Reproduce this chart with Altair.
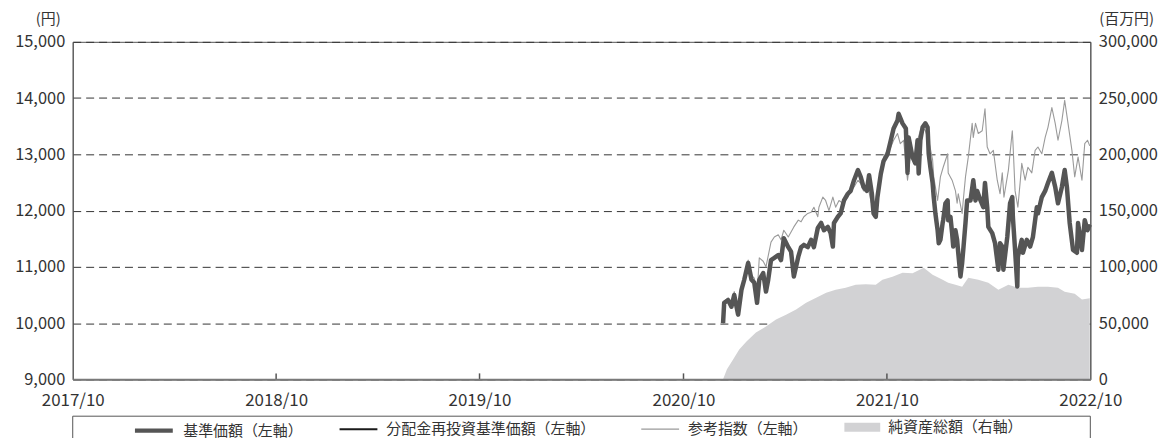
import altair as alt
import pandas as pd

# ---------------- data ----------------
S_BASE = "基準価額（左軸）"
S_DIST = "分配金再投資基準価額（左軸）"
S_REF = "参考指数（左軸）"
S_NAV = "純資産総額（右軸）"
C_BASE, C_DIST, C_REF, C_NAV = "#555555", "#1a1a1a", "#9a9a9a", "#d2d2d4"

base_dates = [
    "2020-12-11", "2020-12-13", "2020-12-20", "2020-12-26", "2020-12-31",
    "2021-01-07", "2021-01-13", "2021-01-18", "2021-01-25", "2021-01-31",
    "2021-02-05", "2021-02-10", "2021-02-14", "2021-02-21", "2021-02-26",
    "2021-03-02", "2021-03-07", "2021-03-13", "2021-03-20", "2021-03-25", "2021-03-30",
    "2021-04-07", "2021-04-12", "2021-04-17", "2021-04-25", "2021-04-30",
    "2021-05-05", "2021-05-12", "2021-05-18", "2021-05-23", "2021-05-30",
    "2021-06-05", "2021-06-10", "2021-06-17", "2021-06-22", "2021-06-26", "2021-06-28",
    "2021-07-05", "2021-07-10", "2021-07-16", "2021-07-23", "2021-07-28",
    "2021-08-03", "2021-08-10", "2021-08-15", "2021-08-20", "2021-08-26", "2021-08-30",
    "2021-09-04", "2021-09-07", "2021-09-11", "2021-09-14", "2021-09-20", "2021-09-25",
    "2021-10-02", "2021-10-08", "2021-10-13", "2021-10-20", "2021-10-22", "2021-10-29",
    "2021-11-04", "2021-11-07", "2021-11-09", "2021-11-16", "2021-11-21", "2021-11-25", "2021-11-27", "2021-11-30",
    "2021-12-04", "2021-12-09", "2021-12-13", "2021-12-15", "2021-12-18", "2021-12-22", "2021-12-24", "2021-12-27", "2021-12-31",
    "2022-01-02", "2022-01-05", "2022-01-09", "2022-01-10", "2022-01-14", "2022-01-18", "2022-01-19", "2022-01-23", "2022-01-26", "2022-01-28",
    "2022-02-01", "2022-02-04", "2022-02-06", "2022-02-10", "2022-02-13", "2022-02-15", "2022-02-19", "2022-02-22", "2022-02-28",
    "2022-03-05", "2022-03-09", "2022-03-12", "2022-03-18", "2022-03-23", "2022-03-26", "2022-03-30",
    "2022-04-01", "2022-04-08", "2022-04-13", "2022-04-19", "2022-04-22", "2022-04-26", "2022-04-28",
    "2022-05-05", "2022-05-10", "2022-05-14", "2022-05-15", "2022-05-19", "2022-05-23", "2022-05-24", "2022-05-31",
    "2022-06-02", "2022-06-09", "2022-06-15", "2022-06-20", "2022-06-27", "2022-06-29",
    "2022-07-06", "2022-07-12", "2022-07-17", "2022-07-24", "2022-07-30",
    "2022-08-04", "2022-08-11", "2022-08-16", "2022-08-20", "2022-08-25", "2022-08-31",
    "2022-09-07", "2022-09-09", "2022-09-16", "2022-09-21", "2022-09-26", "2022-09-30",
]
base_values = [
    10000, 10360, 10410, 10290, 10500,
    10150, 10590, 10770, 11070, 10770,
    10720, 10360, 10770, 10890, 10560,
    10770, 11120, 11160, 11210, 11120, 11510,
    11350, 11270, 10830, 11180, 11350,
    11390, 11350, 11480, 11350, 11690,
    11780, 11650, 11710, 11600, 11360, 11780,
    11890, 11950, 12180, 12300, 12350,
    12540, 12720, 12600, 12420, 12350, 12630,
    12300, 11950, 11890, 12240, 12650, 12880,
    13000, 13250, 13460, 13600, 13720, 13550,
    13460, 12670, 13300, 12950, 12840, 13250, 12660, 13250,
    13480, 13550, 13480, 13010, 12770, 12490, 12240, 11950, 11650,
    11420, 11480, 11780, 11830, 12130, 12180, 11830, 11890, 11600, 11360,
    11650, 11480, 11250, 10830, 11070, 11300, 11780, 12180, 12180,
    12540, 12180, 12350, 12180, 12060, 12490, 12060,
    11710, 11600, 11420, 10950, 11420, 11360, 10950,
    11530, 12130, 12240, 11890, 11300, 10650, 11180, 11480,
    11250, 11480, 11360, 11530, 12060, 11950,
    12240, 12350, 12490, 12670, 12420,
    12130, 12420, 12720, 12420, 11780, 11300,
    11250, 11780, 11300, 11830, 11650, 11750,
]

ref_dates = [
    "2020-12-11", "2020-12-13", "2020-12-20", "2020-12-26", "2020-12-31",
    "2021-01-07", "2021-01-13", "2021-01-18", "2021-01-25", "2021-01-31",
    "2021-02-05", "2021-02-10", "2021-02-14", "2021-02-21", "2021-02-26",
    "2021-03-07", "2021-03-13", "2021-03-20", "2021-03-25", "2021-03-30",
    "2021-04-07", "2021-04-12", "2021-04-17", "2021-04-25", "2021-04-30",
    "2021-05-05", "2021-05-12", "2021-05-18", "2021-05-23", "2021-05-30",
    "2021-06-01", "2021-06-08", "2021-06-13", "2021-06-19", "2021-06-26",
    "2021-07-01", "2021-07-07", "2021-07-14", "2021-07-23", "2021-07-28",
    "2021-08-03", "2021-08-10", "2021-08-15", "2021-08-20", "2021-08-28",
    "2021-09-02", "2021-09-07", "2021-09-14", "2021-09-20", "2021-09-25",
    "2021-10-02", "2021-10-08", "2021-10-13", "2021-10-20", "2021-10-25", "2021-10-31",
    "2021-11-07", "2021-11-12", "2021-11-18", "2021-11-25", "2021-11-30",
    "2021-12-04", "2021-12-09", "2021-12-15", "2021-12-22", "2021-12-24", "2021-12-31",
    "2022-01-05", "2022-01-10", "2022-01-18", "2022-01-19", "2022-01-26",
    "2022-02-01", "2022-02-04", "2022-02-06", "2022-02-13", "2022-02-15", "2022-02-19", "2022-02-24",
    "2022-03-03", "2022-03-05", "2022-03-09", "2022-03-14", "2022-03-21", "2022-03-26", "2022-03-30",
    "2022-04-04", "2022-04-10", "2022-04-17", "2022-04-22", "2022-04-26", "2022-04-29",
    "2022-05-07", "2022-05-14", "2022-05-15", "2022-05-19", "2022-05-24", "2022-05-28", "2022-05-31",
    "2022-06-06", "2022-06-11", "2022-06-18", "2022-06-24", "2022-06-29",
    "2022-07-06", "2022-07-12", "2022-07-17", "2022-07-24", "2022-07-30",
    "2022-08-04", "2022-08-11", "2022-08-16", "2022-08-22", "2022-08-29",
    "2022-09-03", "2022-09-09", "2022-09-16", "2022-09-21", "2022-09-26", "2022-09-30",
]
ref_values = [
    10000, 10380, 10450, 10330, 10560,
    10220, 10650, 10830, 11120, 10850,
    10800, 10500, 11160, 11100, 11000,
    11440, 11530, 11570, 11480, 11650,
    11530, 11620, 11710, 11830, 11800,
    11890, 11950, 11970, 12060, 11890,
    12060, 12240, 12180, 12000, 12240,
    12060, 12180, 12130, 12240, 12350,
    12420, 12540, 12480, 12350, 12420,
    12180, 12000, 12300, 12650, 12950,
    13070, 13130, 13250, 13370, 13190, 13250,
    12540, 12950, 12900, 13250, 13420,
    13480, 13420, 13250, 12900, 12600, 12180,
    12600, 12770, 13010, 12670, 12540,
    12350, 12130, 12300, 11950, 12180, 12600, 12950,
    13550, 13300, 13550, 13370, 13420, 13810, 13130,
    13010, 13070, 12540, 12300, 12670, 12240,
    12720, 13420, 13250, 12350, 12060, 12490, 12840,
    12540, 12770, 12670, 13070, 13130,
    13010, 13300, 13480, 13830, 13550,
    13250, 13600, 13960, 13550, 13070,
    12600, 12950, 12540, 13190, 13250, 13150,
]

nav_dates = [
    "2020-12-11", "2020-12-18", "2020-12-29",
    "2021-01-09", "2021-01-22", "2021-02-08", "2021-02-26", "2021-03-16",
    "2021-04-03", "2021-04-21", "2021-05-09", "2021-05-27", "2021-06-14",
    "2021-07-01", "2021-07-19", "2021-08-06", "2021-08-24", "2021-09-11", "2021-09-23",
    "2021-10-11", "2021-10-29", "2021-11-16", "2021-12-06", "2021-12-22",
    "2022-01-09", "2022-01-19", "2022-02-01", "2022-02-13", "2022-02-24", "2022-03-14",
    "2022-04-01", "2022-04-19", "2022-05-07", "2022-05-24", "2022-06-11", "2022-06-29",
    "2022-07-17", "2022-08-04", "2022-08-16", "2022-09-03", "2022-09-16", "2022-09-30",
]
nav_values = [
    0, 9000, 17700,
    26500, 33600, 41600, 46900, 53100,
    57500, 62000, 68100, 72600, 77000,
    79700, 81400, 84100, 84500, 84100, 88500,
    91200, 94700, 94300, 99100, 92900,
    88500, 85800, 84100, 82300, 90300, 88500,
    85800, 79700, 84100, 81400, 81400, 82300,
    82300, 81400, 77900, 76000, 71000, 72000,
]

year_ticks = [2017, 2018, 2019, 2020, 2021, 2022]
inner_tick_dates = ["2018-10-01", "2019-10-01", "2020-10-01", "2021-10-01"]
left_ticks = [9000, 10000, 11000, 12000, 13000, 14000, 15000]
right_ticks = [0, 50000, 100000, 150000, 200000, 250000, 300000]

# ---------------- tables ----------------
base_df = pd.DataFrame({"date": pd.to_datetime(base_dates), "value": base_values, "series": S_BASE})
dist_df = pd.DataFrame({"date": pd.to_datetime(base_dates), "value": base_values, "series": S_DIST})
ref_df = pd.DataFrame({"date": pd.to_datetime(ref_dates), "value": ref_values, "series": S_REF})
nav_df = pd.DataFrame({"date": pd.to_datetime(nav_dates), "nav": nav_values, "series": S_NAV})
tick_df = pd.DataFrame({"date": pd.to_datetime(inner_tick_dates)})

FONT = "Noto Sans CJK JP"
W, H = 1022, 339
NUM_FMT = ",.0f"
LEG_Y = 369

x_scale = alt.Scale(domain=[alt.DateTime(year=2017, month=10, date=1),
                            alt.DateTime(year=2022, month=10, date=1)])
x_axis = alt.Axis(values=[alt.DateTime(year=y, month=10, date=1) for y in year_ticks],
                  format="%Y/%m", title=None, labelFlush=False, labelOverlap=False,
                  ticks=False, grid=False, domainColor="#7a7a7a", domainWidth=2,
                  labelPadding=13, labelFontSize=17, zindex=1)
x_enc = alt.X("date:T", scale=x_scale, axis=x_axis)


def line_legend(x, width):
    return alt.Legend(title=None, orient="none", legendX=x, legendY=LEG_Y,
                      symbolType="stroke", symbolSize=1444, symbolStrokeWidth=width,
                      labelFontSize=15, labelOffset=8, labelLimit=400, padding=0,
                      symbolOpacity=1)


left_scale = alt.Scale(domain=[9000, 15000], nice=False, zero=False)
left_axis = alt.Axis(orient="left", values=left_ticks, format=NUM_FMT, title="(円)",
                     titleAngle=0, titleAlign="center", titleBaseline="middle",
                     titleX=-25, titleY=-23, ticks=False, labelPadding=8,
                     labelFontSize=16.5, domainColor="#555555", grid=True, gridDash=[8, 5],
                     gridColor="#333333", gridWidth=1)

ref_line = alt.Chart(ref_df).mark_line(strokeWidth=1.1, strokeJoin="round").encode(
    x=x_enc,
    y=alt.Y("value:Q", scale=left_scale, axis=None),
    stroke=alt.Stroke("series:N", scale=alt.Scale(domain=[S_REF], range=[C_REF]),
                      legend=line_legend(570, 1.2)),
)
dist_line = alt.Chart(dist_df).mark_line(strokeWidth=1.5, strokeJoin="round").encode(
    x=x_enc,
    y=alt.Y("value:Q", scale=left_scale, axis=None),
    stroke=alt.Stroke("series:N", scale=alt.Scale(domain=[S_DIST], range=[C_DIST]),
                      legend=line_legend(267, 2)),
)
base_line = alt.Chart(base_df).mark_line(strokeWidth=4.5, strokeJoin="round").encode(
    x=x_enc,
    y=alt.Y("value:Q", scale=left_scale, axis=left_axis),
    stroke=alt.Stroke("series:N", scale=alt.Scale(domain=[S_BASE], range=[C_BASE]),
                      legend=line_legend(60, 4.5)),
)

area = alt.Chart(nav_df).mark_area(opacity=1, interpolate="linear").encode(
    x=x_enc,
    y=alt.Y("nav:Q", scale=alt.Scale(domain=[0, 300000], nice=False),
            axis=alt.Axis(orient="right", values=right_ticks, format=NUM_FMT, title="(百万円)",
                          titleAngle=0, titleAlign="center", titleBaseline="middle",
                          titleX=36, titleY=-23, ticks=False, labelPadding=8,
                          labelFontSize=16.5, domainColor="#555555", grid=False)),
    fill=alt.Fill("series:N", scale=alt.Scale(domain=[S_NAV], range=[C_NAV]),
                  legend=alt.Legend(title=None, orient="none", legendX=775, legendY=LEG_Y,
                                    symbolType="M-1,-0.25H1V0.25H-1Z", symbolSize=1296,
                                    symbolStrokeWidth=0, symbolOpacity=1,
                                    labelFontSize=15, labelOffset=8, labelLimit=400,
                                    padding=0)),
)

ticks = alt.Chart(tick_df).mark_rule(color="#555555", strokeWidth=1.5).encode(
    x=alt.X("date:T", scale=x_scale), y=alt.value(H), y2=alt.value(H - 6))

legend_box = alt.Chart(pd.DataFrame({"k": [0]})).mark_rect(
    fill="transparent", stroke="#555555", strokeWidth=1).encode(
    x=alt.value(0), x2=alt.value(W), y=alt.value(376), y2=alt.value(430))

chart = alt.layer(area, ref_line, dist_line, base_line, ticks, legend_box).resolve_scale(
    y="independent", stroke="independent", fill="independent"
).resolve_legend(stroke="independent", fill="independent").properties(
    width=W, height=H,
    autosize=alt.AutoSizeParams(type="none"),
    padding={"left": 65, "top": 33, "right": 73, "bottom": 72},
).configure_view(stroke="#555555", strokeWidth=1).configure_axis(
    labelFont=FONT, titleFont=FONT, titleFontSize=15,
    labelColor="#333333", titleColor="#333333", titleFontWeight="normal",
).configure_legend(labelFont=FONT, labelColor="#333333")

chart.save("out.html", embed_options={"renderer": "svg", "actions": False})
